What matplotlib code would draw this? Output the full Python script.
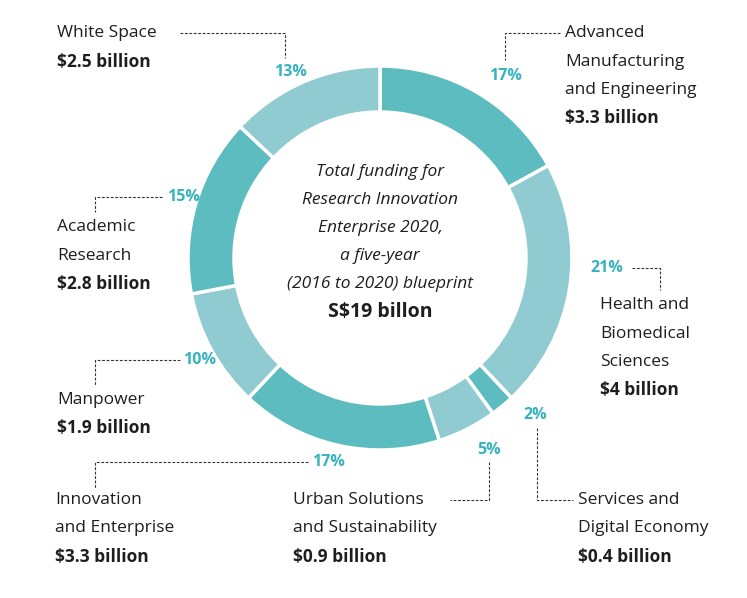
import matplotlib.pyplot as plt

plt.rcParams['font.family'] = ['Open Sans', 'DejaVu Sans']

sectors = ["Advanced Manufacturing and Engineering", "Health and Biomedical Sciences",
           "Services and Digital Economy", "Urban Solutions and Sustainability",
           "Innovation and Enterprise", "Manpower", "Academic Research", "White Space"]
shares = [17, 21, 2, 5, 17, 10, 15, 13]
funding = ["$3.3 billion", "$4 billion", "$0.4 billion", "$0.9 billion",
           "$3.3 billion", "$1.9 billion", "$2.8 billion", "$2.5 billion"]
name_lines = [["Advanced", "Manufacturing", "and Engineering"],
              ["Health and", "Biomedical", "Sciences"],
              ["Services and", "Digital Economy"],
              ["Urban Solutions", "and Sustainability"],
              ["Innovation", "and Enterprise"],
              ["Manpower"],
              ["Academic", "Research"],
              ["White Space"]]

DARK, LIGHT = "#5dbcbf", "#8fcbd1"
PCT = "#35b3bf"
TXT = "#1e1e1e"

fig = plt.figure(figsize=(7.47, 5.98), dpi=100)
ax = fig.add_axes([0, 0, 1, 1])

colors = [DARK if i % 2 == 0 else LIGHT for i in range(len(shares))]
# y axis inverted -> counterclock=True appears clockwise
ax.pie(shares, colors=colors, startangle=-90, counterclock=True,
       center=(380, 258), radius=192, frame=True,
       wedgeprops=dict(width=46, edgecolor="white", linewidth=2.5))
ax.set_xlim(0, 747)
ax.set_ylim(598, 0)
ax.set_aspect('equal')
ax.axis('off')

# label layout: text x, first line y, pct pos, leader path
layout = [
    (565, 33, (505, 76), [(560, 33), (505, 33), (505, 60)]),
    (600, 305, (607, 268), [(632, 268), (660, 268), (660, 290)]),
    (578, 500, (535, 415), [(537, 428), (537, 500), (573, 500)]),
    (293, 500, (489, 450), [(489, 462), (489, 500), (450, 500)]),
    (55, 500, (328, 462), [(308, 462), (95, 462), (95, 488)]),
    (57, 400, (200, 360), [(180, 360), (95, 360), (95, 385)]),
    (57, 227, (183, 197), [(162, 197), (95, 197), (95, 212)]),
    (57, 33, (290, 72), [(180, 33), (285, 33), (285, 58)]),
]
step = 28.5
for i, (tx, ty, (px, py), path) in enumerate(layout):
    lines = name_lines[i]
    for j, ln in enumerate(lines):
        ax.text(tx, ty + j * step, ln, fontsize=12.5, color=TXT, va='center', ha='left')
    ax.text(tx, ty + len(lines) * step, funding[i], fontsize=12.5, color=TXT,
            va='center', ha='left', fontweight='bold')
    ax.text(px, py, f"{shares[i]}%", fontsize=11.5, color=PCT, va='center',
            ha='center', fontweight='bold')
    xs, ys = zip(*path)
    ax.plot(xs, ys, color="#333333", lw=0.8, ls=(0, (2.5, 1.5)))

center_lines = ["Total funding for", "Research Innovation", "Enterprise 2020,",
                "a five-year", "(2016 to 2020) blueprint"]
for j, ln in enumerate(center_lines):
    ax.text(380, 172 + j * 28, ln, fontsize=12.5, color=TXT, style='italic',
            ha='center', va='center')
ax.text(380, 312, "S$19 billon", fontsize=14, color=TXT, fontweight='bold',
        ha='center', va='center')

fig.savefig("out.png", dpi=100)
